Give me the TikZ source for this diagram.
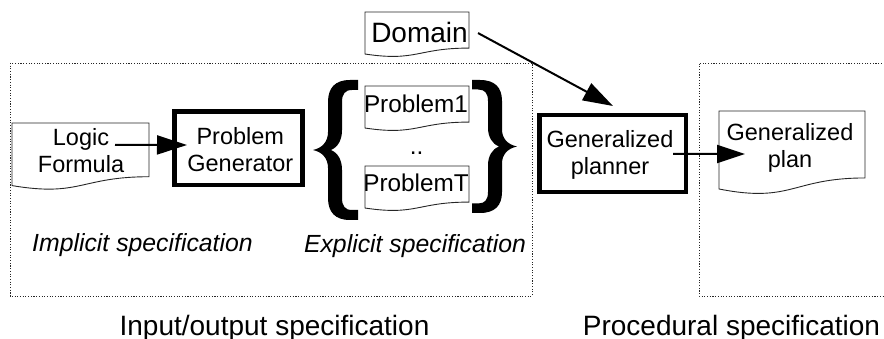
\documentclass[tikz,border=0pt]{standalone}
\usepackage{fontspec}
\setmainfont{Liberation Sans}
\usetikzlibrary{arrows.meta,calc}
\tikzset{
  docline/.style={draw=black!85, line width=0.9pt, line join=miter},
  dotbox/.style={draw=black!85, line width=0.8pt, dash pattern=on 1.1pt off 1.6pt},
  thickbox/.style={draw=black, line width=4.8pt, inner sep=0pt, outer sep=0pt},
  boxtxt/.style={inner sep=0pt, outer sep=0pt, align=center, font=\fontsize{23.5}{27}\selectfont},
  doctxt/.style={inner sep=0pt, outer sep=0pt, font=\fontsize{24.3}{27}\selectfont},
  itlab/.style={inner sep=0pt, outer sep=0pt, font=\fontsize{24.8}{28}\selectfont\itshape},
  biglab/.style={inner sep=0pt, outer sep=0pt, font=\fontsize{28}{32}\selectfont},
  arr/.style={line width=2pt, -{Triangle[length=30pt,width=19pt]}},
  bracefill/.style={fill=black, draw=none}
}
\newcommand{\docnode}[5]{%
  \node[inner sep=0pt,outer sep=0pt,minimum width=#4pt,minimum height={0.802*#5pt}] (#1) at ({#2+0.5*#4},{#3+0.401*#5}) {};
  \draw[docline] (#2,#3) -- ({#2+#4},#3) -- ({#2+#4},{#3+0.802*#5})
    .. controls ({#2+0.5*#4},{#3+0.802*#5}) and ({#2+0.5*#4},{#3+1.107*#5}) .. (#2,{#3+0.934*#5}) -- cycle;}
\newcommand{\bracepath}{%
  \fill[bracefill] (0,0) -- (-8,0) .. controls (-23,0) and (-30,8) .. (-30,22) -- (-30,52)
    .. controls (-30,62) and (-36,68) .. (-45,70) .. controls (-36,72) and (-30,78) .. (-30,88)
    -- (-30,118) .. controls (-30,132) and (-23,140) .. (-8,140) -- (0,140) -- (0,130) -- (-6,130)
    .. controls (-13,130) and (-16,126) .. (-16,118) -- (-16,90) .. controls (-16,80) and (-20,73) .. (-27,70)
    .. controls (-20,67) and (-16,60) .. (-16,50) -- (-16,22) .. controls (-16,14) and (-13,10) .. (-6,10)
    -- (0,10) -- cycle;}
\begin{document}
\begin{tikzpicture}[x=1pt,y=-1pt]
\useasboundingbox (0,0) rectangle (884,339);
% dotted regions
\draw[dotbox] (10,63) rectangle (532,296);
\draw[dotbox] (890,63) -- (699,63) -- (699,296) -- (890,296);
% documents
\docnode{logic}{12}{123}{137}{67}
\docnode{domain}{365}{12}{104}{45}
\docnode{prob1}{365}{86}{104}{45}
\docnode{probT}{365}{166}{104}{45}
\docnode{plan}{719}{111}{146}{83.5}
% boxes
\node[thickbox, minimum width=128pt, minimum height=73.5pt] (pg) at (238.5,148.25) {};
\node[thickbox, minimum width=146.5pt, minimum height=77pt] (gp) at (612.75,153.5) {};
% texts
\node[boxtxt, anchor=north] (logictxt) at (81,127.1) {\strut Logic\\\strut Formula};
\node[boxtxt, anchor=north] (pgtxt) at (240.3,126) {\strut Problem\\\strut Generator};
\node[boxtxt, anchor=north] (gptxt) at (610,129.1) {\strut Generalized\\\strut planner};
\node[boxtxt, anchor=north] (plantxt) at (790,122.1) {\strut Generalized\\\strut plan};
\node[biglab, anchor=base] (domaintxt) at (419.5,43) {Domain};
\node[doctxt, anchor=base] (prob1txt) at (416,113) {Problem1};
\node[doctxt, anchor=base] (probTtxt) at (416,192) {ProblemT};
\node[doctxt, anchor=base] (dots) at (416.5,155) {..};
\node[itlab, anchor=base] (impl) at (142.5,252) {Implicit specification};
\node[itlab, anchor=base] (expl) at (415,252.5) {Explicit specification};
\node[biglab, anchor=base] (iolab) at (274.5,335) {Input/output specification};
\node[biglab, anchor=base] (proclab) at (731.5,335) {Procedural specification};
% braces
\begin{scope}[shift={(358,80)}]\bracepath\end{scope}
\begin{scope}[shift={(472,80)}, xscale=-1, yscale=0.95]\bracepath\end{scope}
% connectors
\draw[arr] ($(logic.east)+(-34,-5)$) -- ($(pg.west)+(12.5,-3.25)$);
\draw[arr] ($(domain.east)+(9,3)$) -- ($(gp.north)+(0.25,-9)$);
\draw[arr, -{Triangle[length=28pt,width=18pt]}] ($(gp.east)+(-13,0.5)$) -- ($(plan.west)+(26,9.5)$);
\end{tikzpicture}
\end{document}
